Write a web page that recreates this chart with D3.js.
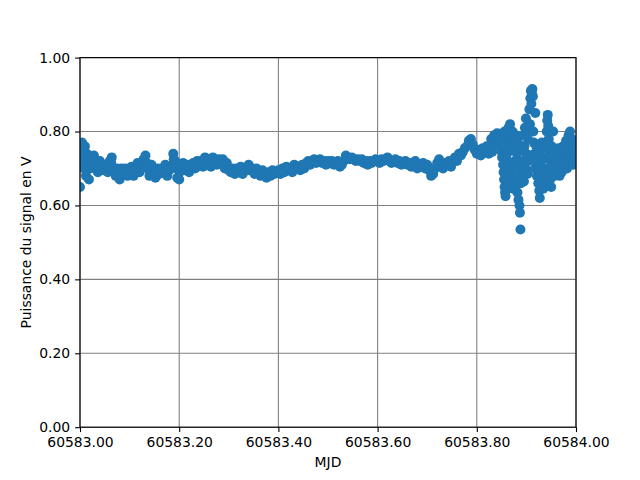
<!DOCTYPE html>
<html><head><meta charset="utf-8">
<script src="https://cdn.jsdelivr.net/npm/d3@7"></script>
<style>body{margin:0;background:#fff} text{font-family:"DejaVu Sans",sans-serif;fill:#000}</style>
</head><body><svg id="c" width="640" height="480"></svg>
<script>
const mjdStart = 60583;
const xTicks = [60583.0, 60583.2, 60583.4, 60583.6, 60583.8, 60584.0];
const yTicks = [0, 0.2, 0.4, 0.6, 0.8, 1.0];
const xLabel = "MJD";
const yLabel = "Puissance du signal en V";

// [day offset from 60583, power (V)]
const earlyNight = [
[0.000,0.65],[0.002,0.75],[0.004,0.77],[0.006,0.72],[0.008,0.70],[0.010,0.76],[0.012,0.68],[0.014,0.74],[0.016,0.72],[0.018,0.67],
[0.020,0.73],[0.024,0.71],[0.028,0.735],[0.032,0.70],[0.036,0.69],[0.040,0.72],[0.044,0.70],[0.048,0.695],[0.052,0.71],[0.056,0.69],
[0.060,0.72],[0.064,0.73],[0.068,0.70],[0.072,0.68],[0.076,0.69],[0.080,0.67],[0.084,0.70],[0.088,0.685],[0.092,0.70],[0.096,0.68],
[0.100,0.695],[0.104,0.705],[0.108,0.68],[0.112,0.70],[0.116,0.715],[0.120,0.69],[0.124,0.71],[0.128,0.725],[0.132,0.735],[0.136,0.70],
[0.140,0.68],[0.144,0.71],[0.148,0.69],[0.152,0.675],[0.156,0.70],[0.160,0.685],[0.164,0.70],[0.168,0.69],[0.172,0.71],[0.176,0.68],
[0.180,0.695],[0.184,0.705],[0.188,0.74],[0.190,0.72],[0.192,0.72],[0.196,0.675],[0.200,0.67],[0.204,0.70],[0.208,0.715],[0.212,0.695],
[0.216,0.71],[0.220,0.69],[0.224,0.705],[0.228,0.715],[0.232,0.70],[0.236,0.72],[0.240,0.71]
];
const earlyNightExtra = [
[0.003,0.72],[0.007,0.745],[0.009,0.73],[0.015,0.71],[0.021,0.70],[0.027,0.72],[0.033,0.715],[0.039,0.705],[0.045,0.71],[0.051,0.70],
[0.057,0.705],[0.063,0.715],[0.069,0.695],[0.075,0.70],[0.081,0.685],[0.087,0.695],[0.093,0.69],[0.099,0.685],[0.105,0.69],[0.111,0.69],
[0.117,0.70],[0.123,0.70],[0.129,0.71],[0.135,0.715],[0.141,0.695],[0.147,0.70],[0.153,0.69],[0.159,0.695],[0.165,0.69],[0.171,0.695],
[0.177,0.695],[0.183,0.70],[0.189,0.725],[0.195,0.70],[0.201,0.69],[0.207,0.70],[0.213,0.71],[0.219,0.70],[0.225,0.71],[0.231,0.71],[0.237,0.705]
];
const lateNight = [
[0.244,0.72],[0.248,0.705],[0.252,0.73],[0.256,0.715],[0.260,0.725],[0.264,0.705],[0.268,0.73],[0.272,0.72],[0.276,0.71],[0.280,0.725],
[0.284,0.715],[0.288,0.725],[0.292,0.70],[0.296,0.715],[0.300,0.695],[0.304,0.69],[0.308,0.70],[0.312,0.685],[0.316,0.70],[0.320,0.69],
[0.324,0.705],[0.328,0.685],[0.332,0.70],[0.336,0.695],[0.340,0.71],[0.344,0.695],[0.348,0.70],[0.352,0.685],[0.356,0.70],[0.360,0.69],
[0.364,0.68],[0.368,0.695],[0.372,0.685],[0.376,0.675],[0.380,0.69],[0.384,0.68],[0.388,0.695],[0.392,0.685],[0.396,0.69],[0.400,0.695],
[0.404,0.685],[0.408,0.70],[0.412,0.69],[0.416,0.705],[0.420,0.695],[0.424,0.70],[0.428,0.69],[0.432,0.71],[0.436,0.70],[0.440,0.705],
[0.444,0.695],[0.448,0.71],[0.452,0.70],[0.456,0.715],[0.460,0.72],[0.464,0.71],[0.468,0.72],[0.472,0.725],[0.476,0.715],[0.480,0.72]
];
const daytime = [
[0.484,0.725],[0.488,0.715],[0.492,0.72],[0.496,0.71],[0.500,0.72],[0.504,0.715],[0.508,0.72],[0.512,0.71],[0.516,0.715],[0.520,0.72],
[0.524,0.705],[0.528,0.71],[0.532,0.72],[0.536,0.735],[0.540,0.73],[0.544,0.725],[0.548,0.73],[0.552,0.725],[0.556,0.72],[0.560,0.725],
[0.564,0.72],[0.568,0.725],[0.572,0.715],[0.576,0.72],[0.580,0.71],[0.584,0.72],[0.588,0.715],[0.592,0.72],[0.596,0.725],[0.600,0.72],
[0.604,0.715],[0.608,0.725],[0.612,0.72],[0.616,0.725],[0.620,0.73],[0.624,0.72],[0.628,0.715],[0.632,0.72],[0.636,0.725],[0.640,0.715],
[0.644,0.72],[0.648,0.71],[0.652,0.715],[0.656,0.72],[0.660,0.71],[0.664,0.715],[0.668,0.705],[0.672,0.71],[0.676,0.72],[0.680,0.70],
[0.684,0.71],[0.688,0.705],[0.692,0.715],[0.696,0.70],[0.700,0.71],[0.704,0.695],[0.708,0.68],[0.712,0.685],[0.716,0.70],[0.720,0.715],
[0.724,0.725],[0.728,0.71],[0.732,0.70],[0.736,0.715],[0.740,0.71],[0.744,0.72],[0.748,0.705],[0.752,0.72],[0.756,0.73],[0.760,0.72],
[0.764,0.74],[0.768,0.735],[0.772,0.745],[0.776,0.755],[0.780,0.76],[0.784,0.775],[0.788,0.78],[0.792,0.765],[0.796,0.75],[0.800,0.74],
[0.804,0.75],[0.808,0.735],[0.812,0.755],[0.816,0.745],[0.820,0.76],[0.824,0.74]
];
const evening = [
[0.826,0.76],[0.829,0.78],[0.831,0.745],[0.833,0.77],[0.835,0.79],[0.837,0.765],[0.839,0.78],[0.841,0.795],[0.843,0.77],[0.845,0.785],[0.847,0.76],
[0.849,0.775],[0.850,0.745],[0.851,0.73],[0.852,0.795],[0.853,0.71],[0.854,0.69],[0.855,0.67],[0.856,0.65],[0.857,0.635],[0.858,0.625],[0.856,0.80],[0.858,0.78],[0.859,0.76],
[0.861,0.74],[0.862,0.72],[0.863,0.70],[0.864,0.81],[0.866,0.79],[0.867,0.82],[0.868,0.765],[0.869,0.75],[0.870,0.68],[0.871,0.66],[0.872,0.80],[0.873,0.645],[0.874,0.78],[0.875,0.70],[0.876,0.76],[0.877,0.72],
[0.878,0.675],[0.879,0.79],[0.880,0.655],[0.881,0.74],[0.882,0.635],[0.883,0.77],[0.884,0.615],[0.885,0.70],[0.886,0.60],[0.887,0.58],[0.888,0.535],[0.889,0.66],[0.890,0.75],[0.891,0.68],
[0.893,0.72],[0.894,0.79],[0.895,0.665],[0.896,0.76],[0.897,0.81],[0.898,0.70],[0.899,0.835],[0.900,0.74],[0.901,0.80],[0.902,0.685],[0.903,0.78],[0.904,0.72]
];
const lateEvening = [
[0.906,0.86],[0.907,0.82],[0.908,0.89],[0.909,0.91],[0.910,0.875],[0.911,0.905],[0.912,0.915],[0.913,0.895],[0.914,0.80],[0.915,0.77],[0.916,0.74],[0.917,0.70],[0.918,0.85],[0.919,0.72],[0.920,0.76],[0.921,0.68],
[0.923,0.74],[0.924,0.66],[0.925,0.70],[0.926,0.64],[0.927,0.62],[0.928,0.75],[0.929,0.67],[0.930,0.72],[0.931,0.77],[0.933,0.695],[0.934,0.645],[0.935,0.73],[0.936,0.66],[0.937,0.70],[0.938,0.76],[0.939,0.68],
[0.941,0.80],[0.942,0.83],[0.943,0.845],[0.944,0.815],[0.945,0.78],[0.946,0.74],[0.947,0.70],[0.948,0.67],[0.949,0.72],[0.950,0.65],[0.951,0.76],[0.952,0.69],[0.953,0.73],[0.954,0.80],[0.955,0.71],[0.956,0.75],[0.957,0.68],
[0.959,0.72],[0.961,0.695],[0.962,0.74],[0.964,0.70],[0.965,0.755],[0.967,0.68],[0.968,0.72],[0.970,0.745],[0.971,0.69],[0.973,0.71],[0.974,0.76],[0.976,0.70],[0.977,0.735],[0.979,0.72],[0.980,0.775],[0.982,0.70],[0.983,0.745],[0.985,0.79],[0.986,0.72],[0.988,0.80],[0.989,0.76],[0.991,0.73],[0.992,0.78],[0.994,0.71],[0.995,0.755],[0.997,0.775],[0.998,0.73],[1.000,0.76]
];

const samples = [].concat(earlyNight, earlyNightExtra, lateNight, daytime, evening, lateEvening)
  .map(d => ({mjd: mjdStart + d[0], power: d[1]}));

const m = {left: 80, right: 576, top: 57.6, bottom: 427.2};
const svg = d3.select("#c");
const x = d3.scaleLinear().domain([60583, 60584]).range([m.left, m.right]);
const y = d3.scaleLinear().domain([0, 1]).range([m.bottom, m.top]);

// grid
const g = svg.append("g");
g.selectAll("line.gx").data(xTicks).join("line")
  .attr("x1", d => x(d)).attr("x2", d => x(d)).attr("y1", m.top).attr("y2", m.bottom)
  .attr("stroke", "#808080").attr("stroke-width", 1.1);
g.selectAll("line.gy").data(yTicks).join("line")
  .attr("y1", d => y(d)).attr("y2", d => y(d)).attr("x1", m.left).attr("x2", m.right)
  .attr("stroke", "#808080").attr("stroke-width", 1.1);

// points
svg.append("clipPath").attr("id", "clp").append("rect")
  .attr("x", m.left).attr("y", m.top).attr("width", m.right - m.left).attr("height", m.bottom - m.top);
svg.append("g").attr("clip-path", "url(#clp)")
  .selectAll("circle").data(samples).join("circle")
  .attr("cx", d => x(d.mjd)).attr("cy", d => y(d.power)).attr("r", 5)
  .attr("fill", "#1f77b4");

// axes
const xAxis = d3.axisBottom(x).tickValues(xTicks).tickFormat(d3.format(".2f")).tickSizeOuter(0).tickSize(4.9).tickPadding(4.9);
const yAxis = d3.axisLeft(y).tickValues(yTicks).tickFormat(d3.format(".2f")).tickSizeOuter(0).tickSize(4.9).tickPadding(4.9);
const ax = svg.append("g").attr("transform", `translate(0,${m.bottom})`).call(xAxis);
const ay = svg.append("g").attr("transform", `translate(${m.left},0)`).call(yAxis);
[ax, ay].forEach(a => {
  a.select(".domain").remove();
  a.selectAll("line").attr("stroke", "#000").attr("stroke-width", 1.1);
  a.selectAll("text").attr("font-family", "DejaVu Sans").attr("font-size", 13.9).attr("fill", "#000");
});

// spines
svg.append("rect").attr("x", m.left).attr("y", m.top).attr("width", m.right - m.left).attr("height", m.bottom - m.top)
  .attr("fill", "none").attr("stroke", "#000").attr("stroke-width", 1.1);

svg.append("text").attr("x", (m.left + m.right) / 2).attr("y", 467).attr("text-anchor", "middle")
  .attr("font-size", 13.9).text(xLabel);
svg.append("text").attr("transform", `translate(31,${(m.top + m.bottom) / 2}) rotate(-90)`).attr("text-anchor", "middle")
  .attr("font-size", 13.9).text(yLabel);
</script></body></html>
